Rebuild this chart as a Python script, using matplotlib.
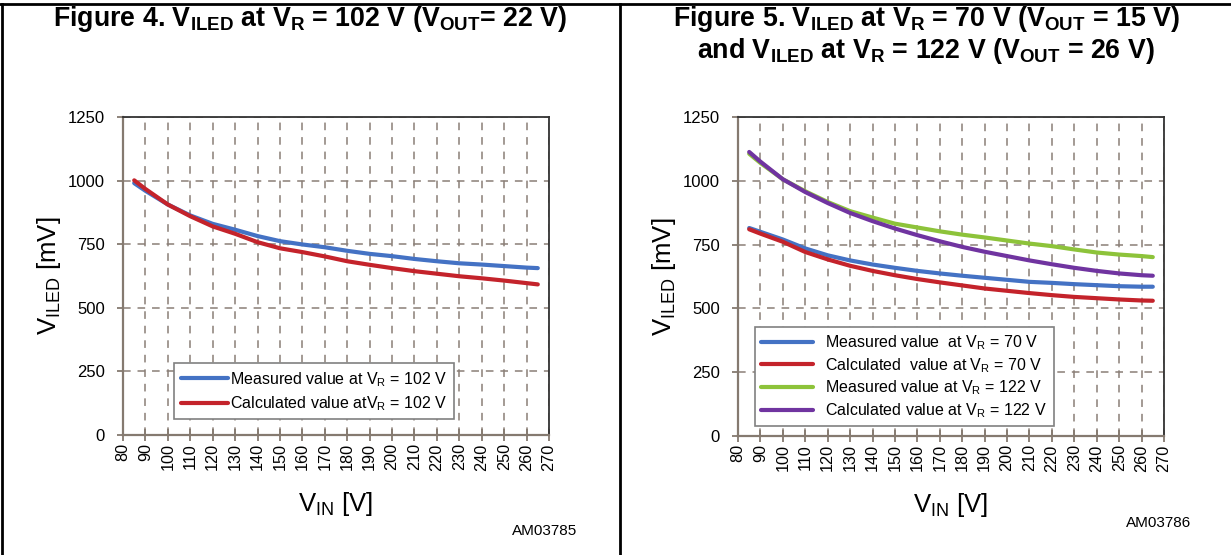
import matplotlib
matplotlib.use("Agg")
import matplotlib.pyplot as plt
from matplotlib.lines import Line2D

plt.rcParams['font.family'] = ['Liberation Sans', 'DejaVu Sans']
plt.rcParams['mathtext.fontset'] = 'custom'
plt.rcParams['mathtext.default'] = 'regular'
plt.rcParams['mathtext.rm'] = 'Liberation Sans'

# ---- data ----
vin = [85, 90, 100, 110, 120, 130, 140, 150, 160, 170, 180, 190, 200, 210, 220, 230, 240, 250, 260, 265]
fig4_meas = [990, 960, 906, 863, 830, 807, 782, 762, 749, 738, 724, 712, 703, 692, 683, 675, 670, 664, 658, 656]
fig4_calc = [1001, 967, 906, 860, 820, 791, 758, 734, 719, 702, 683, 669, 656, 644, 634, 624, 616, 607, 597, 592]
fig5_meas70 = [815, 800, 770, 735, 708, 688, 672, 659, 647, 637, 628, 620, 612, 604, 600, 595, 591, 587, 585, 585]
fig5_calc70 = [810, 793, 761, 721, 692, 667, 647, 630, 615, 602, 590, 578, 569, 560, 552, 545, 540, 535, 531, 530]
fig5_meas122 = [1106, 1070, 1006, 959, 917, 881, 856, 832, 817, 802, 789, 778, 766, 754, 744, 731, 719, 711, 705, 701]
fig5_calc122 = [1113, 1075, 1006, 956, 913, 874, 842, 813, 787, 763, 741, 722, 705, 688, 673, 659, 647, 637, 630, 628]

xticks = list(range(80, 271, 10))
yticks = [0, 250, 500, 750, 1000, 1250]

fig4_labels = ['Measured value at V$_{R}$ = 102 V', 'Calculated value atV$_{R}$ = 102 V']
fig5_labels = ['Measured value  at V$_{R}$ = 70 V', 'Calculated  value at V$_{R}$ = 70 V',
               'Measured value at V$_{R}$ = 122 V', 'Calculated value at V$_{R}$ = 122 V']

BLUE = '#4472C4'
RED = '#C4232B'
GREEN = '#8DC33A'
PURPLE = '#7034A0'
GRID = '#8A7F77'
AX = '#857A70'

W, H = 1231, 555
fig = plt.figure(figsize=(W / 100, H / 100), dpi=100)


def setup(ax):
    ax.set_xlim(80, 270)
    ax.set_ylim(0, 1250)
    ax.set_xticks(xticks)
    ax.set_yticks(yticks)
    ax.set_xticklabels([str(t) for t in xticks], rotation=90, fontsize=11.7)
    ax.set_yticklabels([str(t) for t in yticks], fontsize=12)
    ax.grid(True, color=GRID, linestyle=(0, (5, 4.5)), linewidth=1.1)
    ax.set_axisbelow(True)
    for s in ['left', 'bottom']:
        ax.spines[s].set_color(AX)
        ax.spines[s].set_linewidth(1.6)
    for s in ['top', 'right']:
        ax.spines[s].set_color('#333333')
        ax.spines[s].set_linewidth(1.3)
    ax.tick_params(axis='x', direction='inout', length=8, width=1.3, color=AX, pad=2)
    ax.tick_params(axis='y', direction='out', length=4, width=1.3, color=AX, pad=9)
    ax.set_xlabel('V$_{IN}$ [V]', fontsize=18.5, labelpad=14)
    ax.set_ylabel('V$_{ILED}$ [mV]', fontsize=18.5)
    ax.yaxis.set_label_coords(-0.142, 0.5)


ax1 = fig.add_axes([123 / W, 1 - 435 / H, 426 / W, 318 / H])
setup(ax1)
ax1.plot(vin, fig4_meas, color=BLUE, lw=3, label=fig4_labels[0], solid_capstyle='round')
ax1.plot(vin, fig4_calc, color=RED, lw=3, label=fig4_labels[1], solid_capstyle='round')
leg1 = ax1.legend(loc='upper left', bbox_to_anchor=(0.12, 0.225), fontsize=11.5,
                  frameon=True, fancybox=False, edgecolor='#808080', framealpha=1,
                  handlelength=3.0, handletextpad=0.1, borderpad=0.4, labelspacing=0.35,
                  borderaxespad=0)
leg1.get_frame().set_linewidth(1.2)

ax2 = fig.add_axes([738 / W, 1 - 436 / H, 426 / W, 319 / H])
setup(ax2)
ax2.plot(vin, fig5_meas70, color=BLUE, lw=3, label=fig5_labels[0], solid_capstyle='round')
ax2.plot(vin, fig5_calc70, color=RED, lw=3, label=fig5_labels[1], solid_capstyle='round')
ax2.plot(vin, fig5_meas122, color=GREEN, lw=3, label=fig5_labels[2], solid_capstyle='round')
ax2.plot(vin, fig5_calc122, color=PURPLE, lw=3, label=fig5_labels[3], solid_capstyle='round')
leg2 = ax2.legend(loc='upper left', bbox_to_anchor=(0.04, 0.342), fontsize=11.5,
                  frameon=True, fancybox=False, edgecolor='#808080', framealpha=1,
                  handlelength=3.2, handletextpad=0.8, borderpad=0.4, labelspacing=0.25,
                  borderaxespad=0)
leg2.get_frame().set_linewidth(1.2)

# titles
TS = 19.3
fig.text(310 / W, 1 - 19 / H, 'Figure 4. V$_{ILED}$ at V$_{R}$ = 102 V (V$_{OUT}$= 22 V)',
         ha='center', va='center', fontsize=TS, fontweight='bold')
fig.text(926 / W, 1 - 19 / H, 'Figure 5. V$_{ILED}$ at V$_{R}$ = 70 V (V$_{OUT}$ = 15 V)',
         ha='center', va='center', fontsize=TS, fontweight='bold')
fig.text(926 / W, 1 - 51 / H, 'and V$_{ILED}$ at V$_{R}$ = 122 V (V$_{OUT}$ = 26 V)',
         ha='center', va='center', fontsize=TS, fontweight='bold')

fig.text(577 / W, 1 - 531 / H, 'AM03785', ha='right', va='center', fontsize=11)
fig.text(1191 / W, 1 - 523 / H, 'AM03786', ha='right', va='center', fontsize=11)

# frame lines
fig.add_artist(Line2D([0, 1], [1 - 4 / H, 1 - 4 / H], transform=fig.transFigure, color='black', lw=2))
fig.add_artist(Line2D([1.5 / W, 1.5 / W], [0, 1 - 4 / H], transform=fig.transFigure, color='black', lw=2))
fig.add_artist(Line2D([620 / W, 620 / W], [0, 1 - 4 / H], transform=fig.transFigure, color='black', lw=2))

fig.savefig('out.png', dpi=100)
